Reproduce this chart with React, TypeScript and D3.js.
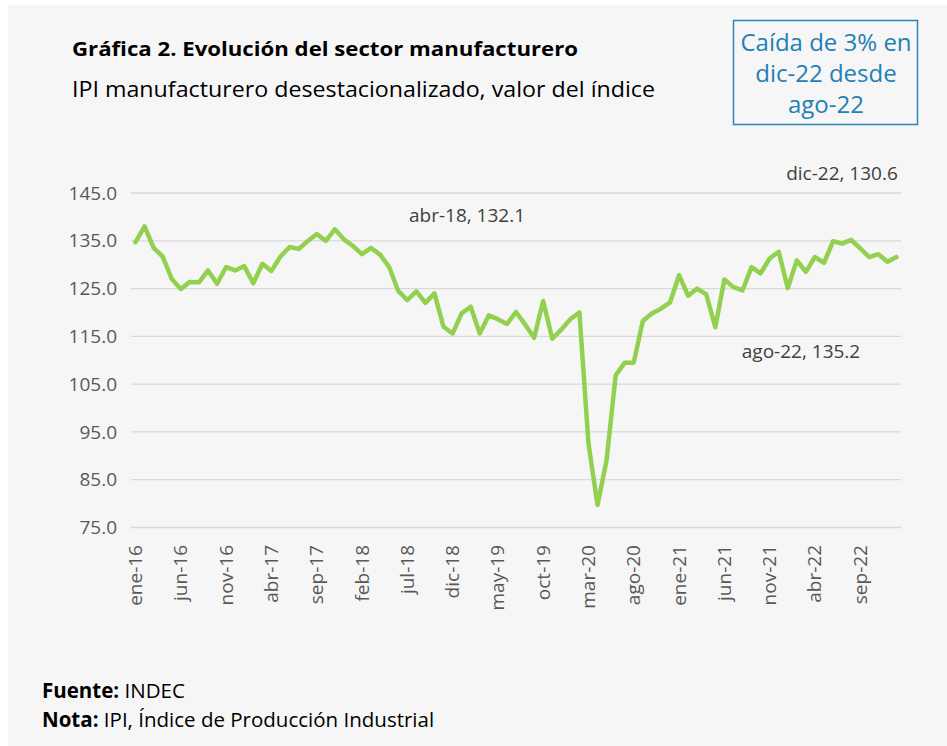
import React from "react";
import * as d3 from "d3";

const months = ["ene", "feb", "mar", "abr", "may", "jun", "jul", "ago", "sep", "oct", "nov", "dic"];
const years = ["16", "17", "18", "19", "20", "21", "22", "23"];

// IPI manufacturero desestacionalizado, ene-16 .. ene-23
const values2016 = [134.7, 138.0, 133.5, 131.7, 127.0, 124.9, 126.4, 126.3, 128.8, 126.0, 129.5, 128.8];
const values2017 = [129.7, 126.1, 130.2, 128.7, 131.7, 133.7, 133.3, 134.9, 136.4, 135.0, 137.4, 135.3];
const values2018 = [133.9, 132.2, 133.5, 132.1, 129.5, 124.5, 122.6, 124.4, 122.0, 124.0, 117.0, 115.6];
const values2019 = [119.8, 121.2, 115.6, 119.4, 118.6, 117.6, 120.1, 117.5, 114.7, 122.4, 114.5, 116.4];
const values2020 = [118.6, 120.0, 92.6, 79.7, 89.1, 106.8, 109.5, 109.5, 118.2, 119.8, 120.8, 122.1];
const values2021 = [127.8, 123.5, 125.0, 123.8, 116.9, 126.9, 125.3, 124.6, 129.5, 128.2, 131.3, 132.7];
const values2022 = [125.1, 130.9, 128.5, 131.6, 130.4, 134.9, 134.4, 135.2, 133.4, 131.6, 132.2, 130.6];
const values2023 = [131.6];

const values = [...values2016, ...values2017, ...values2018, ...values2019, ...values2020, ...values2021, ...values2022, ...values2023];
const categories = values.map((_, i) => `${months[i % 12]}-${years[Math.floor(i / 12)]}`);

const yTicks = [75, 85, 95, 105, 115, 125, 135, 145];
const tickEvery = 5;

const annotations = [
  { label: "abr-18, 132.1", x: 467, y: 222 },
  { label: "dic-22, 130.6", x: 842, y: 180 },
  { label: "ago-22, 135.2", x: 801, y: 358 },
];

const boxLines = ["Caída de 3% en", "dic-22 desde", "ago-22"];

const W = 947;
const H = 746;
const font = "'Open Sans', 'Noto Sans', sans-serif";

export default function App() {
  const x = d3.scaleBand<number>().domain(values.map((_, i) => i)).range([131, 901]);
  const y = d3.scaleLinear().domain([75, 145]).range([527.5, 193]);
  const cx = (i: number) => (x(i) as number) + x.bandwidth() / 2;
  const line = d3
    .line<number>()
    .x((_, i) => cx(i))
    .y((d) => y(d));

  return (
    <div style={{ position: "absolute", left: 0, top: 0, width: W, height: H, background: "#fff" }}>
      <svg width={W} height={H} style={{ display: "block" }} fontFamily={font}>
        <rect x={8} y={5} width={W - 8} height={H - 5} fill="#f6f6f6" />
        <text x={72} y={56} fontSize={19} fontWeight="bold" fill="#000" textLength={506} lengthAdjust="spacingAndGlyphs">
          Gráfica 2. Evolución del sector manufacturero
        </text>
        <text x={72} y={97} fontSize={21} fill="#000" textLength={583} lengthAdjust="spacingAndGlyphs">
          IPI manufacturero desestacionalizado, valor del índice
        </text>
        <rect x={733.5} y={20.5} width={184} height={104} fill="none" stroke="#2e86b8" strokeWidth={1.5} />
        {boxLines.map((t, i) => (
          <text key={t} x={826} y={51 + i * 31} fontSize={24} fill="#1f80b4" textAnchor="middle">
            {t}
          </text>
        ))}
        {yTicks.map((t) => (
          <g key={t}>
            <line x1={131} x2={901} y1={y(t)} y2={y(t)} stroke="#d9d9d9" strokeWidth={1.3} />
            <text x={117} y={y(t)} dy="0.35em" fontSize={19} fill="#595959" textAnchor="end">
              {t.toFixed(1)}
            </text>
          </g>
        ))}
        {categories.map((c, i) =>
          i % tickEvery === 0 ? (
            <text
              key={c}
              transform={`translate(${cx(i) + 6.5},545) rotate(-90)`}
              fontSize={19}
              fill="#595959"
              textAnchor="end"
            >
              {c}
            </text>
          ) : null
        )}
        <path d={line(values) || ""} fill="none" stroke="#92d050" strokeWidth={4.5} strokeLinejoin="round" strokeLinecap="round" />
        {annotations.map((a) => (
          <text key={a.label} x={a.x} y={a.y} fontSize={19} fill="#404040" textAnchor="middle">
            {a.label}
          </text>
        ))}
        <text x={42} y={698} fontSize={20.5} fill="#000">
          <tspan fontWeight="bold">Fuente:</tspan> INDEC
        </text>
        <text x={42} y={727} fontSize={20.5} fill="#000">
          <tspan fontWeight="bold">Nota:</tspan> IPI, Índice de Producción Industrial
        </text>
      </svg>
    </div>
  );
}
